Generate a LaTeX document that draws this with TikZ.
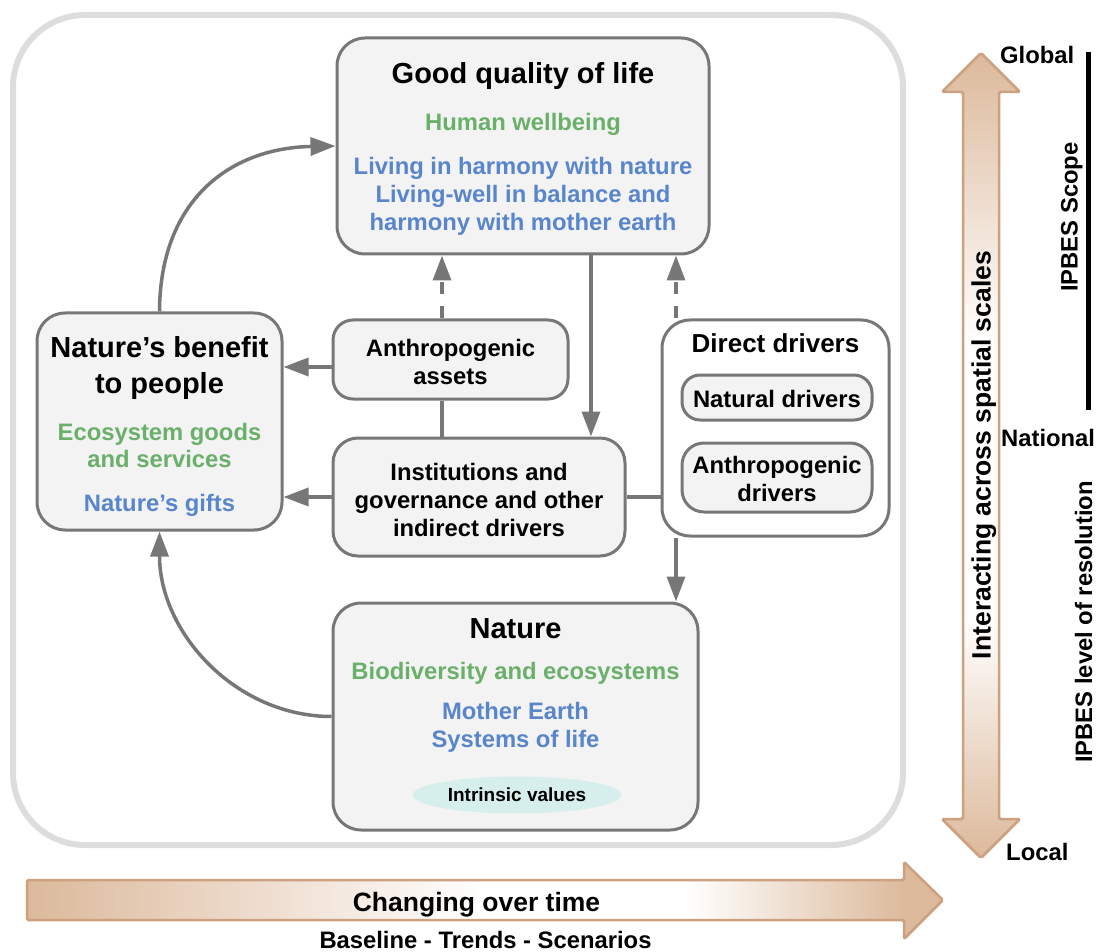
\documentclass[tikz,border=0pt]{standalone}
\usepackage{fontspec}
\setmainfont{Liberation Sans}
\usetikzlibrary{arrows.meta,shapes.geometric}
\definecolor{boxgray}{HTML}{777777}
\definecolor{boxfill}{HTML}{F3F3F3}
\definecolor{mygreen}{RGB}{106,176,106}
\definecolor{myblue}{RGB}{88,133,204}
\definecolor{mytan}{RGB}{220,185,155}
\definecolor{tanborder}{RGB}{205,160,128}
\definecolor{framegray}{HTML}{DDDDDD}
\definecolor{myteal}{RGB}{214,239,236}
\newcommand\myfs[1]{\fontsize{#1}{#1}\selectfont}
\pgfdeclarehorizontalshading{hshadeA}{100bp}{color(0bp)=(mytan); color(25bp)=(mytan); color(50bp)=(white); color(61bp)=(white); color(73bp)=(mytan); color(100bp)=(mytan)}
\pgfdeclareverticalshading{vshadeA}{100bp}{color(0bp)=(mytan); color(25bp)=(mytan); color(40bp)=(white); color(57bp)=(white); color(75bp)=(mytan); color(100bp)=(mytan)}
\begin{document}
\begin{tikzpicture}[x=1pt,y=-1pt,
 box/.style={draw=boxgray, line width=3pt, fill=boxfill, rounded corners=#1, inner sep=0pt},
 box/.default=28pt,
 txt/.style={anchor=base, inner sep=0pt, font=\bfseries\myfs{23.8}},
 ttl/.style={txt, font=\bfseries\myfs{29}},
 conn/.style={draw=boxgray, line width=3.5pt},
 arr/.style={conn, -{Triangle[length=25pt,width=18pt]}},
 dsh/.style={arr, dash pattern=on 12pt off 12pt},
 bigarrow/.style={draw=tanborder, line width=2.5pt, rounded corners=1.5pt}
]
\useasboundingbox (0,0) rectangle (1096,952);
% outer frame
\draw[draw=framegray, line width=6pt, rounded corners=72pt] (13,15) rectangle (903,845);

% boxes
\node[box, minimum width=372pt, minimum height=216pt] (gql) at (523,146) {};
\node[box, minimum width=245pt, minimum height=217pt] (nbp) at (159.5,421.5) {};
\node[box=20pt, minimum width=235pt, minimum height=79pt] (assets) at (450.5,359.5) {};
\node[box=25pt, minimum width=292pt, minimum height=118pt] (inst) at (479,497) {};
\node[box, fill=white, minimum width=227pt, minimum height=216pt] (dd) at (775.5,428) {};
\node[box=18pt, minimum width=190pt, minimum height=45pt] (natdr) at (777,397.5) {};
\node[box=22pt, minimum width=190pt, minimum height=69pt] (antdr) at (777,477.5) {};
\node[box, minimum width=365pt, minimum height=227pt] (nature) at (515.5,716.5) {};
\node[ellipse, fill=myteal, minimum width=209pt, minimum height=37pt, inner sep=0pt, font=\bfseries\myfs{19}] (iv) at (517,795) {Intrinsic values};

% texts
\node[ttl] (gqlT) at (523,83.4) {Good quality of life};
\node[txt, text=mygreen] (gqlG) at (523,130.6) {Human wellbeing};
\node[txt, text=myblue] (gqlB1) at (523,174.6) {Living in harmony with nature};
\node[txt, text=myblue] (gqlB2) at (523,202.6) {Living-well in balance and};
\node[txt, text=myblue] (gqlB3) at (523,230.6) {harmony with mother earth};

\node[ttl] (nbpT1) at (159.5,357.4) {Nature’s benefit};
\node[ttl] (nbpT2) at (159.5,393.4) {to people};
\node[txt, text=mygreen] (nbpG1) at (159.5,440.6) {Ecosystem goods};
\node[txt, text=mygreen] (nbpG2) at (159.5,467.6) {and services};
\node[txt, text=myblue] (nbpB) at (159.5,511.6) {Nature’s gifts};

\node[txt] (assT1) at (450.5,356.6) {Anthropogenic};
\node[txt] (assT2) at (450.5,384.6) {assets};

\node[txt] (instT1) at (479,480.6) {Institutions and};
\node[txt] (instT2) at (479,508.6) {governance and other};
\node[txt] (instT3) at (479,536.6) {indirect drivers};

\node[txt, font=\bfseries\myfs{26}] (ddT) at (775.5,352.4) {Direct drivers};
\node[txt] (natT) at (777,407.6) {Natural drivers};
\node[txt] (antT1) at (777,473.6) {Anthropogenic};
\node[txt] (antT2) at (777,501.6) {drivers};

\node[ttl] (natureT) at (515.5,638.4) {Nature};
\node[txt, text=mygreen] (natureG) at (515.5,679.6) {Biodiversity and ecosystems};
\node[txt, text=myblue] (natureB1) at (515.5,719.6) {Mother Earth};
\node[txt, text=myblue] (natureB2) at (515.5,747.6) {Systems of life};

% connectors
\draw[arr] (nbp.north) .. controls (160,200) and (230,148) .. (gql.west);
\draw[arr] (nature.west) .. controls (236,716.5) and (159.5,633) .. (nbp.south);
\draw[arr] ([yshift=-7.5pt]assets.west) -- ([yshift=-7.5pt]assets.west -| nbp.east);
\draw[arr] (inst.west) -- (inst.west -| nbp.east);
\draw[dsh] ([xshift=-8.5pt]assets.north) -- ([xshift=-8.5pt]assets.north |- gql.south);
\draw[arr] ([xshift=68pt]gql.south) -- ([xshift=68pt]gql.south |- inst.north);
\draw[dsh] ([xshift=-99.5pt]dd.north) -- ([xshift=-99.5pt]dd.north |- gql.south);
\draw[conn] ([xshift=-8.5pt]assets.south) -- ([xshift=-8.5pt]assets.south |- inst.north);
\draw[conn] (inst.east) -- (inst.east -| dd.west);
\draw[arr] ([xshift=-99.5pt]dd.south) -- ([xshift=-99.5pt]dd.south |- nature.north);

% vertical double arrow
\draw[bigarrow, shading=vshadeA] (981,53) -- (1020,92) -- (999,92) -- (999,819) -- (1020,819) -- (981,858) -- (942,819) -- (963,819) -- (963,92) -- (942,92) -- cycle;
\node[txt, font=\bfseries\myfs{26.5}, rotate=90] (interact) at (990.5,455) {Interacting across spatial scales};
\node[txt, anchor=base west] (global) at (1000,63.6) {Global};
\node[txt, anchor=base west] (national) at (1001,446.6) {National};
\node[txt, anchor=base west] (local) at (1006,860.6) {Local};
\draw[line width=5pt] (1088,52) -- (1088,410);
\node[txt, rotate=90] (scope) at (1077.6,217) {IPBES Scope};
\node[txt, rotate=90] (resol) at (1092,622) {IPBES level of resolution};

% horizontal arrow
\draw[bigarrow, shading=hshadeA] (27,880) -- (904,880) -- (904,862) -- (943,900) -- (904,939) -- (904,920) -- (27,920) -- cycle;
\node[txt, font=\bfseries\myfs{26.5}] (changing) at (476.5,911.5) {Changing over time};
\node[txt] (baseline) at (485.5,948.5) {Baseline - Trends - Scenarios};
\end{tikzpicture}
\end{document}
